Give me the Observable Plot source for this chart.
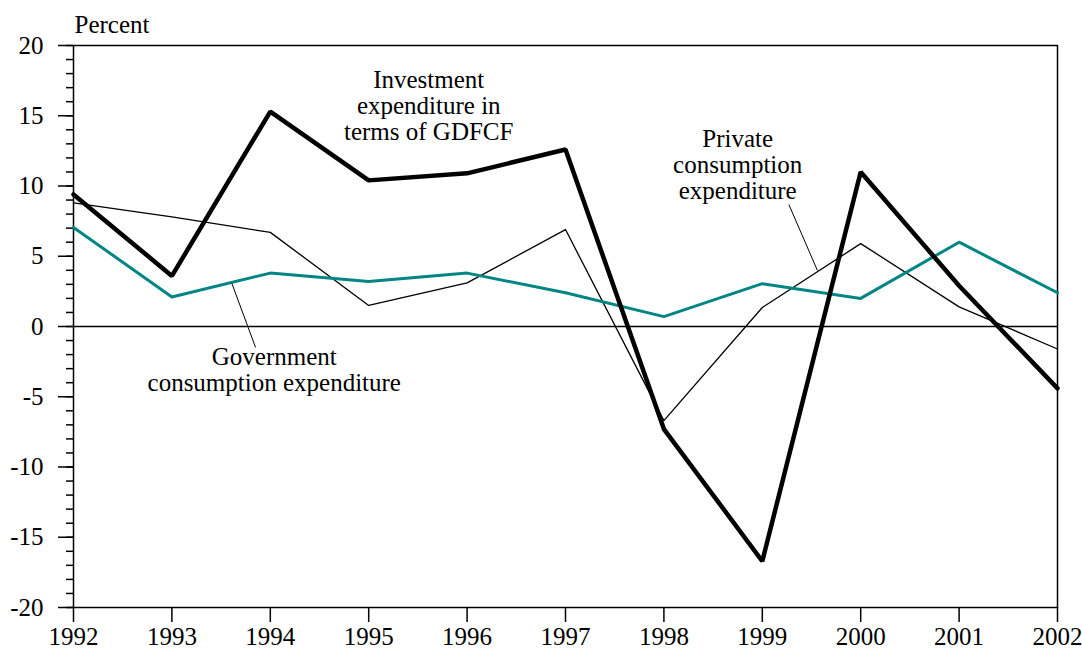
<!DOCTYPE html>
<html><head><meta charset="utf-8">
<script src="https://cdn.jsdelivr.net/npm/d3@7"></script>
<script src="https://cdn.jsdelivr.net/npm/@observablehq/plot@0.6"></script>
<style>
body{margin:0;background:#fff}
#chart svg{display:block}
#chart svg text{font-family:"Liberation Serif","Times New Roman",serif !important}
</style>
</head><body><div id="chart"></div>
<script>
const years = [1992, 1993, 1994, 1995, 1996, 1997, 1998, 1999, 2000, 2001, 2002];
const investment = [9.4, 3.6, 15.3, 10.4, 10.9, 12.6, -7.3, -16.7, 11.0, 2.9, -4.4];
const privateCons = [8.8, 7.8, 6.7, 1.5, 3.1, 6.9, -6.7, 1.35, 5.9, 1.4, -1.6];
const government = [7.05, 2.1, 3.8, 3.2, 3.8, 2.4, 0.7, 3.05, 2.0, 6.0, 2.4];
const yMajorTicks = [-20, -15, -10, -5, 0, 5, 10, 15, 20];
const yMinorTicks = d3.range(-20, 21, 1);
const yAxisTitle = "Percent";
const annotations = [
  {x: 1995.61, y: 15.71, text: "Investment\nexpenditure in\nterms of GDFCF"},
  {x: 1998.75, y: 11.5, text: "Private\nconsumption\nexpenditure"},
  {x: 1994.04, y: -3.08, text: "Government\nconsumption expenditure"}
];
const leaders = [
  {x1: 1999.27, y1: 8.68, x2: 1999.56, y2: 3.99},
  {x1: 1993.61, y1: 3.06, x2: 1993.85, y2: -1.49}
];

const rows = (vals) => years.map((yr, i) => ({year: yr, value: vals[i]}));
const font = "Liberation Serif";
const fs = 25;

const chart = Plot.plot({
  width: 1082,
  height: 652,
  marginLeft: 73,
  marginRight: 25,
  marginTop: 45,
  marginBottom: 45,
  style: {fontFamily: font, fontSize: "25px", color: "black", background: "white"},
  x: {domain: [1992, 2002]},
  y: {domain: [-20, 20]},
  marks: [
    Plot.axisY(yMinorTicks, {tickSize: 7, tickFormat: () => "", label: null, strokeWidth: 1.5}),
    Plot.axisY(yMajorTicks, {tickSize: 15, tickPadding: 15, fontSize: fs, fontFamily: font, tickFormat: d => String(d), label: null, strokeWidth: 1.5}),
    Plot.axisX(years, {tickSize: 15, tickPadding: 5, fontSize: fs, fontFamily: font, tickFormat: d => String(d), label: null, strokeWidth: 1.5}),
    Plot.frame({stroke: "black", strokeWidth: 1.5}),
    Plot.ruleY([0], {stroke: "black", strokeWidth: 1.5}),
    Plot.line(rows(privateCons), {x: "year", y: "value", stroke: "black", strokeWidth: 1.3}),
    Plot.line(rows(government), {x: "year", y: "value", stroke: "#008585", strokeWidth: 3}),
    Plot.line(rows(investment), {x: "year", y: "value", stroke: "black", strokeWidth: 4.5, strokeLinejoin: "miter"}),
    Plot.link(leaders, {x1: "x1", y1: "y1", x2: "x2", y2: "y2", stroke: "black", strokeWidth: 1}),
    Plot.text(annotations, {x: "x", y: "y", text: "text", fontSize: fs, fontFamily: font, lineHeight: 1.04, textAnchor: "middle", lineAnchor: "middle", fill: "black"}),
    Plot.text([yAxisTitle], {frameAnchor: "top-left", dx: 1, dy: -21, fontSize: fs, fontFamily: font, textAnchor: "start", lineAnchor: "middle", fill: "black"})
  ]
});
document.getElementById("chart").appendChild(chart);
</script>
</body></html>
